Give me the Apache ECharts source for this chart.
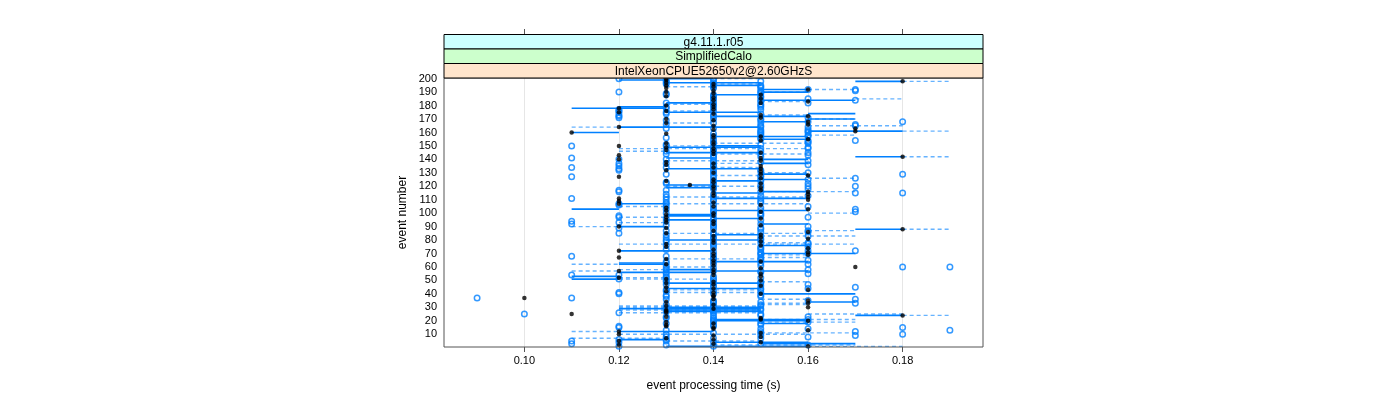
<!DOCTYPE html>
<html><head><meta charset="utf-8">
<script src="https://cdn.jsdelivr.net/npm/echarts@6/dist/echarts.min.js"></script>
<style>html,body{margin:0;padding:0;background:#fff}#c{width:1400px;height:400px}</style>
</head><body><div id="c"></div>
<script>
// ---------- data ----------
const stripLabels = ['g4.11.1.r05', 'SimplifiedCalo', 'IntelXeonCPUE52650v2@2.60GHzS'];
const xTicks = [0.10, 0.12, 0.14, 0.16, 0.18];
const yTicks = [10,20,30,40,50,60,70,80,90,100,110,120,130,140,150,160,170,180,190,200];
const xTitle = 'event processing time (s)';
const yTitle = 'event number';

// black dots, one per event (event 1 .. 200)
const blackTime = [
0.16,0.12,0.14,0.15,0.12,0.14,0.13,0.15,0.14,0.12,
0.15,0.12,0.16,0.14,0.14,0.13,0.13,0.14,0.13,0.16,
0.15,0.15,0.13,0.18,0.11,0.13,0.13,0.13,0.14,0.16,
0.13,0.14,0.16,0.13,0.16,0.14,0.10,0.14,0.14,0.15,
0.14,0.13,0.16,0.14,0.13,0.15,0.14,0.13,0.14,0.15,
0.13,0.12,0.15,0.14,0.15,0.14,0.12,0.14,0.15,0.17,
0.14,0.13,0.14,0.15,0.14,0.13,0.12,0.14,0.16,0.14,
0.16,0.12,0.14,0.16,0.13,0.15,0.13,0.14,0.15,0.14,
0.16,0.15,0.14,0.15,0.13,0.16,0.14,0.18,0.13,0.12,
0.15,0.14,0.13,0.14,0.13,0.15,0.13,0.14,0.13,0.14,
0.15,0.13,0.16,0.13,0.14,0.15,0.12,0.14,0.12,0.16,
0.12,0.16,0.14,0.16,0.14,0.16,0.15,0.14,0.15,0.14,
0.135,0.15,0.14,0.13,0.14,0.15,0.12,0.16,0.15,0.14,
0.15,0.13,0.15,0.14,0.15,0.13,0.14,0.13,0.15,0.12,
0.15,0.18,0.12,0.14,0.15,0.14,0.13,0.14,0.13,0.12,
0.14,0.13,0.14,0.15,0.16,0.14,0.15,0.14,0.13,0.11,
0.17,0.14,0.17,0.12,0.14,0.16,0.13,0.16,0.14,0.13,
0.15,0.16,0.15,0.14,0.12,0.13,0.14,0.12,0.14,0.13,
0.14,0.15,0.16,0.14,0.15,0.14,0.13,0.15,0.14,0.13,
0.14,0.16,0.13,0.14,0.13,0.14,0.13,0.18,0.13,0.13
];

// blue open circles, first set (event 1 .. 200)
const circleTimeA = [
0.14,0.13,0.15,0.14,0.13,0.12,0.14,0.16,0.15,0.13,
0.14,0.15,0.13,0.15,0.12,0.14,0.15,0.13,0.16,0.14,
0.14,0.13,0.16,0.14,0.15,0.12,0.14,0.15,0.13,0.14,
0.15,0.13,0.14,0.15,0.14,0.17,0.09,0.13,0.15,0.12,
0.15,0.14,0.13,0.15,0.17,0.14,0.13,0.15,0.13,0.14,
0.14,0.13,0.14,0.11,0.13,0.15,0.14,0.13,0.14,0.18,
0.15,0.14,0.13,0.14,0.15,0.14,0.15,0.11,0.14,0.15,
0.14,0.17,0.15,0.14,0.15,0.14,0.16,0.15,0.13,0.15,
0.14,0.13,0.15,0.13,0.14,0.15,0.16,0.14,0.15,0.14,
0.14,0.11,0.14,0.11,0.14,0.13,0.12,0.15,0.14,0.15,
0.17,0.14,0.17,0.14,0.13,0.12,0.13,0.15,0.14,0.13,
0.11,0.14,0.15,0.13,0.17,0.12,0.13,0.16,0.14,0.17,
0.14,0.13,0.14,0.15,0.16,0.17,0.11,0.14,0.18,0.16,
0.14,0.15,0.12,0.11,0.14,0.16,0.12,0.14,0.16,0.13,
0.11,0.14,0.16,0.13,0.14,0.15,0.14,0.15,0.16,0.11,
0.15,0.14,0.16,0.17,0.15,0.13,0.16,0.15,0.14,0.15,
0.16,0.15,0.13,0.15,0.17,0.13,0.14,0.18,0.15,0.14,
0.12,0.14,0.12,0.15,0.13,0.12,0.15,0.13,0.15,0.14,
0.15,0.13,0.15,0.17,0.14,0.15,0.14,0.13,0.15,0.12,
0.17,0.16,0.14,0.15,0.14,0.13,0.14,0.13,0.14,0.12
];

// blue open circles, second set (event 1 .. 200)
const circleTimeB = [
0.12,0.16,0.11,0.12,0.11,0.13,0.15,0.13,0.17,0.18,
0.15,0.17,0.19,0.16,0.18,0.12,0.14,0.15,0.14,0.15,
0.16,0.14,0.13,0.15,0.10,0.14,0.13,0.14,0.15,0.13,
0.14,0.15,0.17,0.14,0.16,0.13,0.11,0.15,0.13,0.14,
0.12,0.13,0.15,0.16,0.14,0.15,0.16,0.14,0.15,0.13,
0.12,0.15,0.13,0.12,0.16,0.13,0.15,0.16,0.13,0.19,
0.13,0.16,0.15,0.13,0.16,0.15,0.14,0.13,0.15,0.16,
0.15,0.16,0.13,0.15,0.16,0.13,0.14,0.16,0.14,0.13,
0.15,0.14,0.16,0.14,0.12,0.16,0.13,0.15,0.12,0.16,
0.13,0.15,0.12,0.13,0.15,0.14,0.16,0.12,0.15,0.13,
0.14,0.15,0.13,0.15,0.16,0.14,0.12,0.13,0.15,0.14,
0.15,0.13,0.16,0.14,0.18,0.15,0.12,0.14,0.15,0.16,
0.15,0.16,0.13,0.14,0.15,0.14,0.15,0.15,0.13,0.14,
0.15,0.12,0.14,0.13,0.12,0.14,0.13,0.15,0.14,0.12,
0.14,0.15,0.14,0.15,0.16,0.13,0.14,0.16,0.14,0.13,
0.13,0.16,0.14,0.16,0.14,0.15,0.14,0.16,0.15,0.16,
0.15,0.16,0.14,0.16,0.15,0.17,0.15,0.16,0.13,0.15,
0.16,0.12,0.14,0.13,0.12,0.14,0.12,0.14,0.13,0.15,
0.14,0.16,0.14,0.15,0.16,0.14,0.15,0.14,0.13,0.15,
0.15,0.17,0.15,0.14,0.15,0.14,0.13,0.15,0.13,0.14
];

// solid segments: [event, from time, to time]
const solidSegments = [
[1,0.13,0.16],[3,0.15,0.17],[4,0.14,0.16],[6,0.12,0.13],[12,0.12,0.14],[18,0.15,0.16],
[20,0.14,0.16],[21,0.14,0.16],[24,0.17,0.18],[27,0.13,0.15],[28,0.13,0.15],[29,0.12,0.15],
[30,0.13,0.15],[34,0.16,0.17],[40,0.15,0.17],[44,0.13,0.15],[48,0.13,0.15],[51,0.11,0.12],
[53,0.11,0.12],[56,0.12,0.14],[57,0.14,0.16],[58,0.13,0.14],[62,0.12,0.13],[63,0.12,0.13],
[64,0.14,0.16],[70,0.15,0.17],[72,0.12,0.14],[76,0.15,0.16],[80,0.13,0.15],[84,0.14,0.15],
[88,0.17,0.18],[90,0.12,0.13],[92,0.15,0.16],[95,0.13,0.14],[96,0.14,0.15],[98,0.13,0.14],
[99,0.13,0.14],[102,0.14,0.16],[103,0.11,0.12],[107,0.12,0.13],[111,0.14,0.16],[115,0.14,0.15],
[116,0.15,0.16],[119,0.13,0.14],[121,0.13,0.14],[124,0.14,0.15],[125,0.15,0.16],[129,0.15,0.16],
[133,0.13,0.15],[137,0.15,0.16],[140,0.15,0.16],[141,0.13,0.14],[142,0.17,0.18],[145,0.13,0.15],
[149,0.13,0.15],[150,0.14,0.15],[155,0.15,0.16],[157,0.14,0.16],[160,0.11,0.12],[161,0.16,0.18],
[164,0.12,0.15],[168,0.15,0.16],[170,0.16,0.17],[172,0.14,0.16],[174,0.16,0.17],[175,0.13,0.15],
[178,0.11,0.13],[179,0.12,0.13],[182,0.13,0.14],[184,0.15,0.17],[188,0.14,0.15],[190,0.15,0.16],
[192,0.15,0.16],[195,0.14,0.15],[197,0.13,0.15],[198,0.17,0.18],[199,0.12,0.13],[200,0.13,0.14]
];

// dashed segments: [event, from time, to time]
const dashedSegments = [
[1,0.16,0.18],[2,0.14,0.17],[5,0.13,0.15],[7,0.11,0.13],[10,0.12,0.16],[11,0.15,0.17],
[12,0.11,0.12],[19,0.15,0.17],[21,0.15,0.17],[24,0.18,0.19],[25,0.16,0.18],[26,0.12,0.15],
[28,0.12,0.15],[30,0.12,0.15],[31,0.12,0.15],[32,0.15,0.16],[33,0.15,0.16],[36,0.15,0.16],
[41,0.13,0.15],[43,0.13,0.15],[49,0.15,0.16],[51,0.12,0.14],[52,0.12,0.13],[57,0.11,0.12],
[58,0.12,0.13],[60,0.13,0.14],[62,0.11,0.12],[66,0.13,0.15],[67,0.15,0.16],[69,0.15,0.16],
[77,0.12,0.17],[78,0.15,0.16],[83,0.15,0.17],[85,0.13,0.16],[87,0.16,0.17],[88,0.18,0.19],
[90,0.11,0.12],[93,0.12,0.13],[97,0.12,0.13],[100,0.16,0.17],[105,0.12,0.13],[107,0.13,0.16],
[112,0.13,0.16],[116,0.15,0.17],[120,0.13,0.15],[126,0.16,0.17],[128,0.14,0.15],[130,0.15,0.16],
[134,0.14,0.15],[137,0.14,0.15],[139,0.13,0.15],[142,0.18,0.19],[144,0.14,0.16],[146,0.12,0.13],
[148,0.12,0.16],[150,0.13,0.14],[152,0.14,0.16],[158,0.16,0.17],[161,0.18,0.19],[164,0.11,0.12],
[165,0.16,0.18],[167,0.13,0.14],[170,0.16,0.17],[173,0.15,0.16],[176,0.13,0.14],[181,0.13,0.14],
[183,0.15,0.16],[185,0.17,0.18],[190,0.15,0.16],[192,0.16,0.17],[194,0.13,0.14],[196,0.14,0.15],
[198,0.18,0.19],[200,0.14,0.15]
];

// ---------- chart ----------
const FONT = 'Liberation Sans, Arial, Helvetica, sans-serif';
const G = {left: 444, top: 78, width: 539, height: 269};
const BLUE = '#0080ff';

const toPts = arr => arr.map((t, i) => (t == null ? null : [t, i + 1])).filter(Boolean);

function segRenderer(style) {
  return function (params, api) {
    const e = api.value(0);
    const p1 = api.coord([api.value(1), e]);
    const p2 = api.coord([api.value(2), e]);
    return {type: 'line', shape: {x1: p1[0], y1: p1[1], x2: p2[0], y2: p2[1]}, style: style};
  };
}

const stripH = 14.5;
const graphics = [];
stripLabels.forEach((lab, k) => {
  const y = G.top - stripH * (stripLabels.length - k);
  const fills = ['#ccffff', '#ccffcc', '#ffe5cc'];
  graphics.push({type: 'rect', shape: {x: G.left, y: y, width: G.width, height: stripH},
    style: {fill: fills[k], stroke: '#000', lineWidth: 1}, z: 10});
  graphics.push({type: 'text', x: G.left + G.width / 2, y: y + stripH / 2 + 0.5,
    style: {text: lab, font: '12px ' + FONT, fill: '#000', textAlign: 'center', textVerticalAlign: 'middle'}, z: 11});
});

const chart = echarts.init(document.getElementById('c'), null, {renderer: 'canvas'});
chart.setOption({
  animation: false,
  backgroundColor: '#fff',
  grid: Object.assign({show: true, borderColor: '#555', borderWidth: 1, backgroundColor: 'transparent', z: 5}, G),
  graphic: graphics,
  xAxis: [{
    type: 'value', min: 0.083, max: 0.197, position: 'bottom',
    axisLine: {show: false},
    axisTick: {show: true, inside: false, length: 5, lineStyle: {color: '#555'}, customValues: xTicks},
    axisLabel: {customValues: xTicks, formatter: v => v.toFixed(2), fontFamily: FONT, fontSize: 11, color: '#000', margin: 8},
    splitLine: {show: true, lineStyle: {color: '#e6e6e6', width: 1}},
    name: xTitle, nameLocation: 'middle', nameGap: 33,
    nameTextStyle: {fontFamily: FONT, fontSize: 12, color: '#000'}
  }, {
    type: 'value', min: 0.083, max: 0.197, position: 'top', offset: 44,
    axisLine: {show: false},
    axisTick: {show: true, inside: false, length: 5, lineStyle: {color: '#555'}, customValues: xTicks},
    axisLabel: {show: false, customValues: xTicks},
    splitLine: {show: false}
  }],
  yAxis: {
    type: 'value', min: 0.5, max: 200.5,
    axisLine: {show: false},
    axisTick: {show: false, customValues: yTicks},
    axisLabel: {customValues: yTicks, fontFamily: FONT, fontSize: 11, color: '#000', margin: 7},
    splitLine: {show: false},
    name: yTitle, nameLocation: 'middle', nameGap: 35,
    nameTextStyle: {fontFamily: FONT, fontSize: 12, color: '#000'}
  },
  series: [
    {type: 'custom', name: 'dashed', data: dashedSegments, encode: {x: [1, 2], y: 0},
     renderItem: segRenderer({stroke: 'rgba(0,128,255,0.6)', lineWidth: 1.4, lineDash: [4, 3]}), z: 1, silent: true},
    {type: 'custom', name: 'solid', data: solidSegments, encode: {x: [1, 2], y: 0},
     renderItem: segRenderer({stroke: BLUE, lineWidth: 1.6}), z: 2, silent: true},
    {type: 'scatter', name: 'circlesA', data: toPts(circleTimeA), symbol: 'circle', symbolSize: 5.5,
     itemStyle: {color: 'rgba(0,0,0,0)', borderColor: BLUE, borderWidth: 1.5}, z: 3, silent: true},
    {type: 'scatter', name: 'circlesB', data: toPts(circleTimeB), symbol: 'circle', symbolSize: 5.5,
     itemStyle: {color: 'rgba(0,0,0,0)', borderColor: BLUE, borderWidth: 1.5}, z: 3, silent: true},
    {type: 'scatter', name: 'black', data: toPts(blackTime), symbol: 'circle', symbolSize: 4.5,
     itemStyle: {color: '#000'}, z: 4, silent: true}
  ]
});
</script>
</body></html>
